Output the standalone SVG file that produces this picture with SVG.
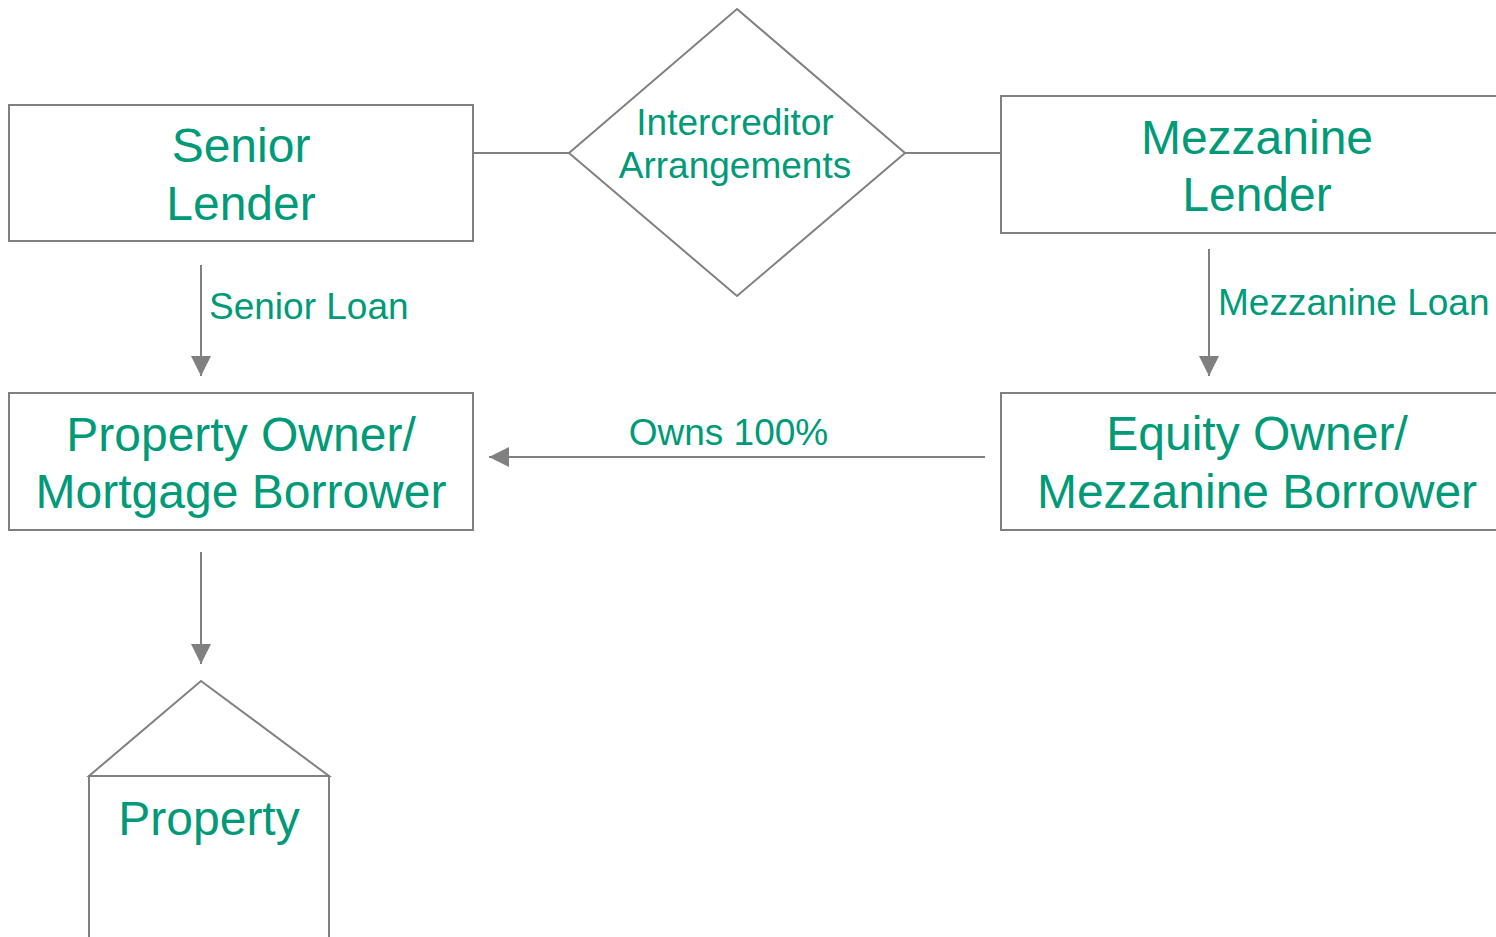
<svg xmlns="http://www.w3.org/2000/svg" width="1496" height="937" viewBox="0 0 1496 937">
  <style>
    .box { fill: #ffffff; stroke: #808080; stroke-width: 2; }
    .line { fill: none; stroke: #808080; stroke-width: 2; }
    .big { font-family: "Liberation Sans", Arial, sans-serif; font-size: 48px; fill: #009a78; text-anchor: middle; }
    .small { font-family: "Liberation Sans", Arial, sans-serif; font-size: 37px; fill: #009a78; }
    .mid { text-anchor: middle; }
  </style>
  <defs>
    <marker id="head" viewBox="0 0 20 20" refX="20" refY="10" markerWidth="20" markerHeight="20" markerUnits="userSpaceOnUse" orient="auto">
      <path d="M0,0 L20,10 L0,20 Z" fill="#808080"/>
    </marker>
  </defs>

  <!-- connectors -->
  <g id="connectors">
    <line class="line" x1="473" y1="153" x2="569" y2="153"/>
    <line class="line" x1="905" y1="153" x2="1001" y2="153"/>
    <line class="line" x1="201" y1="265" x2="201" y2="376" marker-end="url(#head)"/>
    <line class="line" x1="1209" y1="249" x2="1209" y2="376" marker-end="url(#head)"/>
    <line class="line" x1="985" y1="457" x2="489" y2="457" marker-end="url(#head)"/>
    <line class="line" x1="201" y1="552" x2="201" y2="664" marker-end="url(#head)"/>
    <text class="small" x="209" y="319">Senior Loan</text>
    <text class="small" x="1218" y="315">Mezzanine Loan</text>
    <text class="small mid" x="728.5" y="445">Owns 100%</text>
  </g>

  <!-- senior lender -->
  <g id="senior-lender">
    <rect class="box" x="9" y="105" width="464" height="136"/>
    <text class="big" x="241" y="162">Senior</text>
    <text class="big" x="241" y="220">Lender</text>
  </g>

  <!-- intercreditor diamond -->
  <g id="intercreditor">
    <polygon class="box" points="737,9 905,153 737,296 569,153"/>
    <text class="small mid" x="735" y="135">Intercreditor</text>
    <text class="small mid" x="735" y="178">Arrangements</text>
  </g>

  <!-- mezzanine lender -->
  <g id="mezzanine-lender">
    <rect class="box" x="1001" y="96" width="500" height="137"/>
    <text class="big" x="1257" y="154">Mezzanine</text>
    <text class="big" x="1257" y="211">Lender</text>
  </g>

  <!-- property owner -->
  <g id="property-owner">
    <rect class="box" x="9" y="393" width="464" height="137"/>
    <text class="big" x="241" y="451">Property Owner/</text>
    <text class="big" x="241" y="508">Mortgage Borrower</text>
  </g>

  <!-- equity owner -->
  <g id="equity-owner">
    <rect class="box" x="1001" y="393" width="500" height="137"/>
    <text class="big" x="1257" y="450">Equity Owner/</text>
    <text class="big" x="1257" y="508">Mezzanine Borrower</text>
  </g>

  <!-- property (house shape) -->
  <g id="property">
    <polygon class="box" points="201,681 329,776 89,776"/>
    <rect class="box" x="89" y="776" width="240" height="180"/>
    <text class="big" x="209" y="835">Property</text>
  </g>
</svg>
